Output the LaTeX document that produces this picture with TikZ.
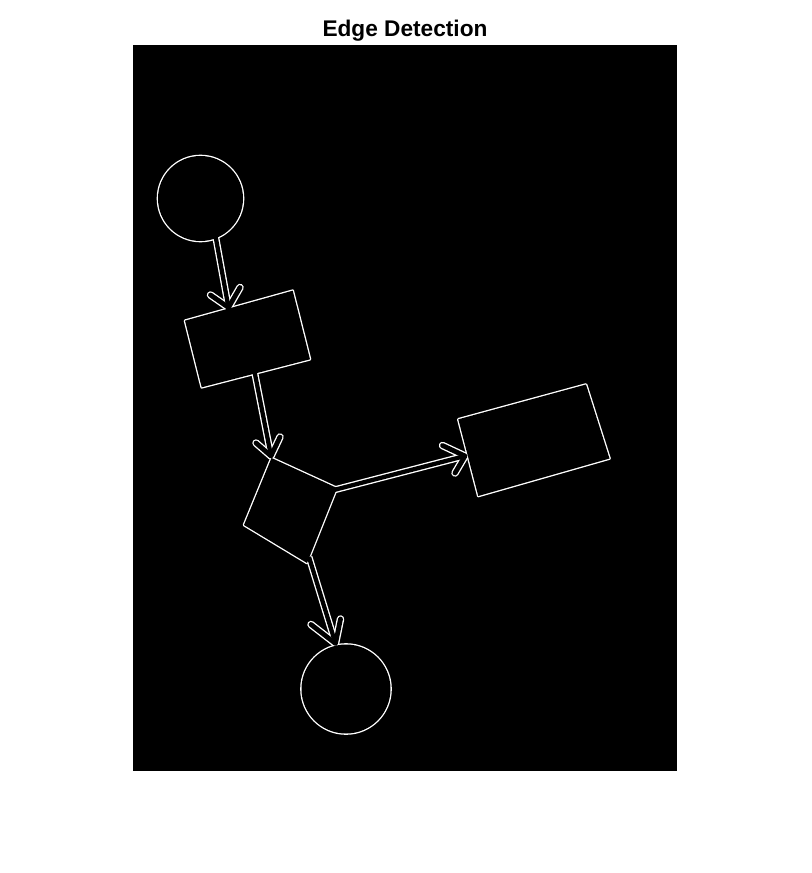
\documentclass[tikz,border=0pt]{standalone}
\usepackage{fontspec}
\setmainfont{Liberation Sans}
\usetikzlibrary{calc}
\tikzset{
  glow/.style={draw=white, fill=white, line width=2pt, line join=round},
  core/.style={draw=none, fill=black},
  shaftglow/.style={draw=white, line width=5.2pt, line cap=butt},
  shaftcore/.style={draw=black, line width=3.2pt, line cap=butt},
  prongglow/.style={draw=white, line width=5.6pt, line cap=round, line join=round},
  prongcore/.style={draw=black, line width=3.6pt, line cap=round, line join=round},
  titletext/.style={font=\fontsize{17}{20}\selectfont\bfseries, text=black, anchor=base, inner sep=0pt}
}
\begin{document}
\begin{tikzpicture}[x=0.75pt,y=-0.75pt]
\useasboundingbox[fill=white] (0,0) rectangle (812,873);
\fill[black] (133,45) rectangle (677,771);
\node[titletext] (title) at (405,37) {Edge Detection};
% shapes
\coordinate (c1) at (200.5,198.5);
\coordinate (c2) at (346,689);
\coordinate (R1a) at (185,320.7);
\coordinate (R1b) at (292.7,290.7);
\coordinate (R1c) at (310,359.3);
\coordinate (R1d) at (201.7,387.3);
\coordinate (R2a) at (458.3,419.3);
\coordinate (R2b) at (586,384.5);
\coordinate (R2c) at (609.5,458.5);
\coordinate (R2d) at (478.3,496);
\coordinate (Sa) at (271.5,458);
\coordinate (Sb) at (337,488);
\coordinate (Sc) at (307,563);
\coordinate (Sd) at (244,525);
% arrows: start, tip, left prong end, right prong end
\coordinate (A1s) at (215.5,236);
\coordinate (A1t) at (228.5,307.5);
\coordinate (A1l) at (210.5,295);
\coordinate (A1r) at (240,287.5);
\coordinate (A2s) at (254,369);
\coordinate (A2t) at (271,456);
\coordinate (A2l) at (256,443);
\coordinate (A2r) at (280,437);
\coordinate (A3s) at (330,491);
\coordinate (A3t) at (465,456);
\coordinate (A3l) at (442.5,445.5);
\coordinate (A3r) at (455,473);
\coordinate (A4s) at (309,557);
\coordinate (A4t) at (335.5,643.5);
\coordinate (A4l) at (311,624.5);
\coordinate (A4r) at (340.5,619);
% pass 1: white, slightly enlarged
\path[glow] (c1) circle[radius=42.5];
\path[glow] (c2) circle[radius=44.5];
\path[glow] (R1a) -- (R1b) -- (R1c) -- (R1d) -- cycle;
\path[glow] (R2a) -- (R2b) -- (R2c) -- (R2d) -- cycle;
\path[glow] (Sa) -- (Sb) -- (Sc) -- (Sd) -- cycle;
\foreach \a in {A1,A2,A3,A4} {
  \path[shaftglow] (\a s) -- (\a t);
  \path[prongglow] (\a l) -- (\a t) -- (\a r);
}
% pass 2: black cores
\path[core] (c1) circle[radius=42.5];
\path[core] (c2) circle[radius=44.5];
\path[core] (R1a) -- (R1b) -- (R1c) -- (R1d) -- cycle;
\path[core] (R2a) -- (R2b) -- (R2c) -- (R2d) -- cycle;
\path[core] (Sa) -- (Sb) -- (Sc) -- (Sd) -- cycle;
\foreach \a in {A1,A2,A3,A4} {
  \path[shaftcore] (\a s) -- (\a t);
  \path[prongcore] (\a l) -- (\a t) -- (\a r);
}
\end{tikzpicture}
\end{document}
